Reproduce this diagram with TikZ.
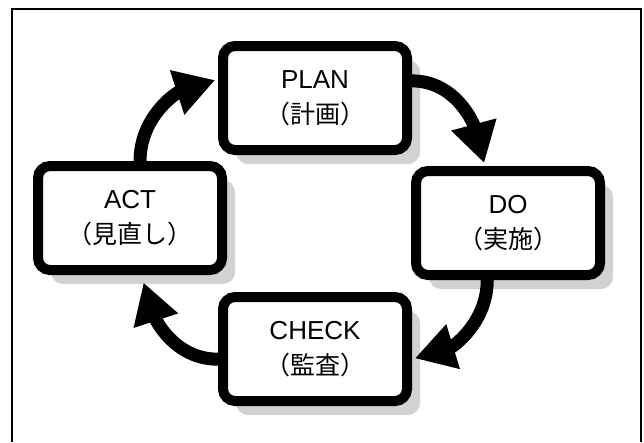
\documentclass[tikz,border=0pt]{standalone}
\usepackage{fontspec}
\setmainfont{Liberation Sans}
\newfontfamily\cjk{Noto Sans CJK JP}
\usetikzlibrary{positioning}
\usetikzlibrary{shadows}
\usetikzlibrary{arrows.meta}
\newcommand{\jlabel}[1]{{\cjk\fontsize{25}{35}\selectfont #1}}
\tikzset{
  stage/.style={draw, line width=10pt, rounded corners=12pt, fill=white,
    minimum width=184pt, minimum height=104pt, inner sep=0pt, align=center,
    font=\fontsize{26}{35}\selectfont,
    drop shadow={shadow xshift=13pt, shadow yshift=-14pt, fill=gray!35, opacity=1}},
  cyclearrow/.style={-{Triangle[length=40pt, width=44pt]}, line width=13pt, shorten >=3pt}
}
\begin{document}
\begin{tikzpicture}[x=1pt, y=1pt, on grid]
        \useasboundingbox (0,0) rectangle (644,-442);
        % frame %
        \draw[line width=1.2pt] (12,-442) |- (641,-9) -- (641,-442);

        % nodes %
        \node[stage] (plan) at (315,-98) {PLAN\\\jlabel{（計画）}};
        \node[stage, below left=120pt and 185pt of plan] (act) {ACT\\\jlabel{（見直し）}};
        \node[stage, below right=125pt and 193pt of plan] (do) {DO\\\jlabel{（実施）}};
        \node[stage, below=251pt of plan] (check) {CHECK\\\jlabel{（監査）}};

        % edges %
        \draw[cyclearrow] (act.80) to[out=90, in=198] (plan.169);
        \draw[cyclearrow] (plan.10) to[out=0, in=105] (do.112);
        \draw[cyclearrow] (do.250) to[out=-90, in=17] (check.354);
        \draw[cyclearrow, shorten >=8pt] (check.186) to[out=180, in=288] (act.281);
\end{tikzpicture}
\end{document}
